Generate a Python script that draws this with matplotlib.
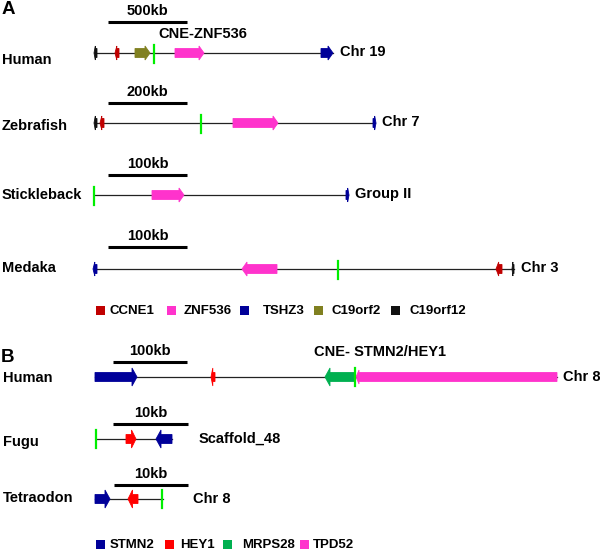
import matplotlib
matplotlib.use('Agg')
import matplotlib.pyplot as plt
from matplotlib.patches import Polygon, Rectangle

plt.rcParams['font.family'] = ['Liberation Sans', 'DejaVu Sans']
plt.rcParams['font.weight'] = 'bold'

# gene colours
COLORS = {
    'CCNE1': '#c00000', 'ZNF536': '#ff33cc', 'TSHZ3': '#000099',
    'C19orf2': '#808020', 'C19orf12': '#111111',
    'STMN2': '#000099', 'HEY1': '#ff0000', 'MRPS28': '#00b050', 'TPD52': '#ff33cc',
}
CNE_COLOR = '#00ee00'

# ---- panel A: ZNF536 locus ----
species_a = ['Human', 'Zebrafish', 'Stickleback', 'Medaka']
chrom_a = ['Chr 19', 'Chr 7', 'Group II', 'Chr 3']
scale_a = ['500kb', '200kb', '100kb', '100kb']
row_y_a = [53, 123, 195, 269]
label_y_a = [60, 126, 195, 268]
span_a = [(95, 333), (95, 375), (94, 348), (95, 514)]
cne_a = [154, 201, 94, 338]
# (gene, start, end) -> arrow points from start towards end
genes_a = [
    [('C19orf12', 97, 94), ('CCNE1', 119, 115), ('C19orf2', 135, 150),
     ('ZNF536', 175, 204), ('TSHZ3', 321, 333)],
    [('C19orf12', 97, 94), ('CCNE1', 104, 100), ('ZNF536', 233, 278),
     ('TSHZ3', 373, 376)],
    [('ZNF536', 152, 184), ('TSHZ3', 346, 349)],
    [('TSHZ3', 97, 93), ('ZNF536', 277, 242), ('CCNE1', 502, 496),
     ('C19orf12', 514, 512)],
]
legend_a = ['CCNE1', 'ZNF536', 'TSHZ3', 'C19orf2', 'C19orf12']
legend_a_x = [96, 167, 240, 314, 391]
legend_a_tx = [110, 184, 263, 331, 410]

# ---- panel B: STMN2/HEY1 locus ----
species_b = ['Human', 'Fugu', 'Tetraodon']
chrom_b = ['Chr 8', 'Scaffold_48', 'Chr 8']
chrom_b_x = [563, 199, 193]
scale_b = ['100kb', '10kb', '10kb']
row_y_b = [377, 439, 499]
label_y_b = [378, 442, 498]
span_b = [(95, 557), (96, 172), (95, 163)]
cne_b = [355, 96, 162]
genes_b = [
    [('STMN2', 95, 137), ('HEY1', 215, 211), ('MRPS28', 355, 325),
     ('TPD52', 557, 356)],
    [('HEY1', 126, 136), ('STMN2', 172, 156)],
    [('STMN2', 95, 110), ('HEY1', 138, 128)],
]
legend_b = ['STMN2', 'HEY1', 'MRPS28', 'TPD52']
legend_b_x = [96, 165, 223, 300]
legend_b_tx = [110, 180, 242, 313]


def arrow(ax, start, end, yc, color, hb=4.5, hh=7.0, hl=5.0):
    d = 1 if end >= start else -1
    length = abs(end - start)
    hl = min(hl, 0.45 * length)
    if length > 100:
        # long bar: only a slight flare at the tip
        hh = hb + 2.5
        hl = 3
    neck = end - d * hl
    pts = [(start, yc - hb), (neck, yc - hb), (neck, yc - hh), (end, yc),
           (neck, yc + hh), (neck, yc + hb), (start, yc + hb)]
    ax.add_patch(Polygon(pts, closed=True, facecolor=color, edgecolor=color,
                         lw=0.6, zorder=3))


def scalebar(ax, x0, x1, y, label):
    ax.plot([x0, x1], [y, y], color='black', lw=2.2, solid_capstyle='butt')
    ax.text((x0 + x1) / 2, y - 11, label, fontsize=10.5, ha='center', va='center')


fig = plt.figure(figsize=(6.0, 5.51), dpi=100)
ax = fig.add_axes([0, 0, 1, 1])
ax.set_xlim(0, 600)
ax.set_ylim(551, 0)
ax.axis('off')

# panel letters
ax.text(2, 10, 'A', fontsize=13.5, va='center', ha='left')
ax.text(1, 357, 'B', fontsize=13.5, va='center', ha='left')

# panel A rows
scale_y_a = [22, 103, 175, 247]
for i, sp in enumerate(species_a):
    y = row_y_a[i]
    x0, x1 = span_a[i]
    ax.text(2, label_y_a[i], sp, fontsize=10.5, va='center', ha='left')
    ax.plot([x0, x1], [y, y], color='#222222', lw=0.9, zorder=1)
    for g, s, e in genes_a[i]:
        arrow(ax, s, e, y, COLORS[g])
    ax.plot([cne_a[i], cne_a[i]], [y - 8, y + 10], color=CNE_COLOR, lw=1.6, zorder=4)
    ax.text(x1 + 7, y - 1, chrom_a[i], fontsize=10.5, va='center', ha='left')
    scalebar(ax, 108, 187, scale_y_a[i], scale_a[i])
ax.text(158, 34, 'CNE-ZNF536', fontsize=10.5, va='center', ha='left')

for name, sx, tx in zip(legend_a, legend_a_x, legend_a_tx):
    ax.add_patch(Rectangle((sx, 306), 9, 9, facecolor=COLORS[name], edgecolor='none'))
    ax.text(tx, 311, name, fontsize=9.5, va='center', ha='left')

# panel B rows
scale_y_b = [362, 424, 485]
scale_x_b = [(113, 187), (113, 188), (114, 188)]
for i, sp in enumerate(species_b):
    y = row_y_b[i]
    x0, x1 = span_b[i]
    ax.text(3, label_y_b[i], sp, fontsize=10.5, va='center', ha='left')
    ax.plot([x0, x1], [y, y], color='#222222', lw=0.9, zorder=1)
    for g, s, e in genes_b[i]:
        arrow(ax, s, e, y, COLORS[g], hb=4.5, hh=9.0, hl=5.0)
    ax.plot([cne_b[i], cne_b[i]], [y - 9, y + 9], color=CNE_COLOR, lw=1.6, zorder=4)
    ax.text(chrom_b_x[i], y, chrom_b[i], fontsize=10.5, va='center', ha='left')
    scalebar(ax, scale_x_b[i][0], scale_x_b[i][1], scale_y_b[i], scale_b[i])
ax.text(314, 352, 'CNE- STMN2/HEY1', fontsize=10.5, va='center', ha='left')

for name, sx, tx in zip(legend_b, legend_b_x, legend_b_tx):
    ax.add_patch(Rectangle((sx, 540), 9, 9, facecolor=COLORS[name], edgecolor='none'))
    ax.text(tx, 545, name, fontsize=9.5, va='center', ha='left')

fig.savefig('out.png', dpi=100, facecolor='white')
